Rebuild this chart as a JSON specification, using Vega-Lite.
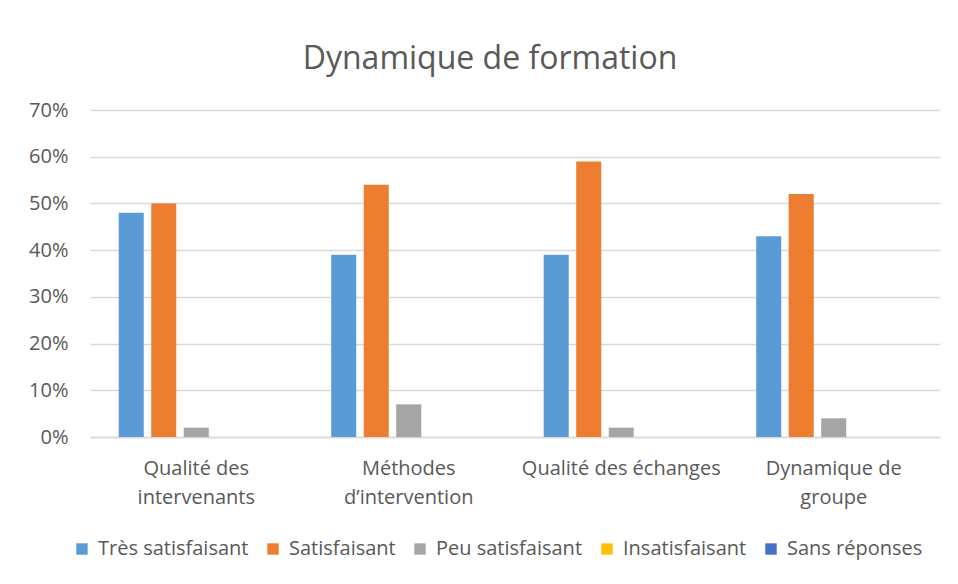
{
  "$schema": "https://vega.github.io/schema/vega-lite/v6.json",
  "width": 850,
  "height": 327,
  "autosize": {"type": "none"},
  "padding": {"left": 90, "top": 110, "right": 18, "bottom": 147},
  "background": "white",
  "title": {
    "text": "Dynamique de formation",
    "font": "Open Sans",
    "fontSize": 32,
    "fontWeight": "normal",
    "color": "#595959",
    "anchor": "middle",
    "dx": -25,
    "offset": 24
  },
  "data": {
    "values": [
      {"cat": "Qualité des|intervenants", "rep": "Très satisfaisant", "v": 0.48},
      {"cat": "Qualité des|intervenants", "rep": "Satisfaisant", "v": 0.50},
      {"cat": "Qualité des|intervenants", "rep": "Peu satisfaisant", "v": 0.02},
      {"cat": "Qualité des|intervenants", "rep": "Insatisfaisant", "v": 0},
      {"cat": "Qualité des|intervenants", "rep": "Sans réponses", "v": 0},
      {"cat": "Méthodes|d’intervention", "rep": "Très satisfaisant", "v": 0.39},
      {"cat": "Méthodes|d’intervention", "rep": "Satisfaisant", "v": 0.54},
      {"cat": "Méthodes|d’intervention", "rep": "Peu satisfaisant", "v": 0.07},
      {"cat": "Méthodes|d’intervention", "rep": "Insatisfaisant", "v": 0},
      {"cat": "Méthodes|d’intervention", "rep": "Sans réponses", "v": 0},
      {"cat": "Qualité des échanges", "rep": "Très satisfaisant", "v": 0.39},
      {"cat": "Qualité des échanges", "rep": "Satisfaisant", "v": 0.59},
      {"cat": "Qualité des échanges", "rep": "Peu satisfaisant", "v": 0.02},
      {"cat": "Qualité des échanges", "rep": "Insatisfaisant", "v": 0},
      {"cat": "Qualité des échanges", "rep": "Sans réponses", "v": 0},
      {"cat": "Dynamique de|groupe", "rep": "Très satisfaisant", "v": 0.43},
      {"cat": "Dynamique de|groupe", "rep": "Satisfaisant", "v": 0.52},
      {"cat": "Dynamique de|groupe", "rep": "Peu satisfaisant", "v": 0.04},
      {"cat": "Dynamique de|groupe", "rep": "Insatisfaisant", "v": 0},
      {"cat": "Dynamique de|groupe", "rep": "Sans réponses", "v": 0}
    ]
  },
  "mark": {"type": "bar"},
  "encoding": {
    "x": {
      "field": "cat",
      "type": "nominal",
      "sort": null,
      "title": null,
      "scale": {"paddingInner": 0.235, "paddingOuter": 0.1176},
      "axis": {
        "labelExpr": "split(datum.label, '|')",
        "labelAngle": 0,
        "labelFont": "Open Sans",
        "labelFontSize": 20,
        "labelColor": "#595959",
        "labelLineHeight": 29,
        "labelPadding": 21,
        "ticks": false,
        "domain": true,
        "domainColor": "#D9D9D9",
        "domainWidth": 1.5,
        "labelLimit": 300
      }
    },
    "xOffset": {
      "field": "rep",
      "type": "nominal",
      "sort": ["Très satisfaisant", "Satisfaisant", "Peu satisfaisant", "Insatisfaisant", "Sans réponses"],
      "scale": {"paddingInner": 0.23, "paddingOuter": 0.115}
    },
    "y": {
      "field": "v",
      "type": "quantitative",
      "title": null,
      "scale": {"domain": [0, 0.7], "nice": false},
      "axis": {
        "format": ".0%",
        "values": [0, 0.1, 0.2, 0.3, 0.4, 0.5, 0.6, 0.7],
        "labelFont": "Open Sans",
        "labelFontSize": 20,
        "labelColor": "#595959",
        "labelPadding": 22,
        "ticks": false,
        "domain": false,
        "grid": true,
        "gridColor": "#D9D9D9",
        "gridWidth": 1.3
      }
    },
    "color": {
      "field": "rep",
      "type": "nominal",
      "sort": ["Très satisfaisant", "Satisfaisant", "Peu satisfaisant", "Insatisfaisant", "Sans réponses"],
      "scale": {
        "domain": ["Très satisfaisant", "Satisfaisant", "Peu satisfaisant", "Insatisfaisant", "Sans réponses"],
        "range": ["#5B9BD5", "#ED7D31", "#A5A5A5", "#FFC000", "#4472C4"]
      },
      "legend": {
        "title": null,
        "orient": "none",
        "legendX": -18,
        "legendY": 429,
        "direction": "horizontal",
        "symbolType": "square",
        "symbolSize": 130,
        "symbolStrokeWidth": 0,
        "labelFont": "Open Sans",
        "labelFontSize": 20,
        "labelColor": "#595959",
        "columnPadding": 14,
        "symbolOffset": 0,
        "labelOffset": 6
      }
    }
  },
  "config": {
    "view": {"stroke": null}
  }
}
